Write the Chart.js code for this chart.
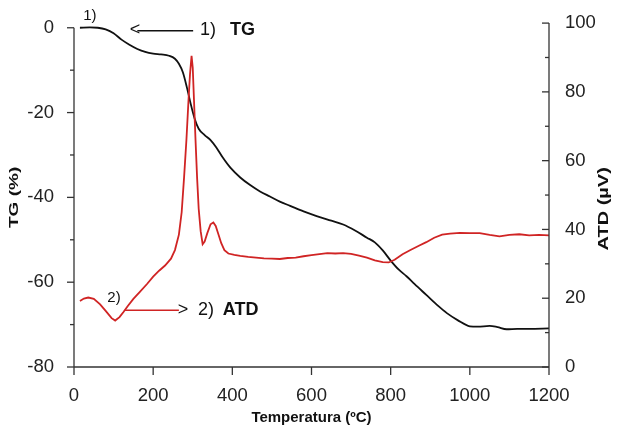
<!DOCTYPE html>
<html>
<head>
<meta charset="utf-8">
<script src="https://cdn.jsdelivr.net/npm/chart.js@4.4.0/dist/chart.umd.min.js"></script>
<style>
  html, body { margin: 0; padding: 0; background: #fff; }
</style>
</head>
<body>
<canvas id="chart" width="619" height="430"></canvas>
<script>
// TG curve (black, left axis)
const tgTemp = [15, 40, 60, 80, 100, 120, 140, 160, 180, 200, 220, 240, 255, 265, 275, 285, 295, 305, 315, 330,
  345, 360, 375, 395, 420, 445, 470, 495, 520, 546, 580, 613, 650, 680, 710, 740, 760, 780, 800, 820,
  840, 860, 890, 920, 942, 970, 1000, 1020, 1050, 1070, 1093, 1120, 1150, 1200];
const tgValues = [0.0, 0.1, 0.0, -0.4, -1.3, -2.8, -4.0, -5.0, -5.7, -6.1, -6.3, -6.6, -7.3, -8.5, -10.5, -14.0, -18.0, -21.5, -23.8, -25.3,
  -26.5, -28.3, -30.5, -33.0, -35.3, -37.1, -38.6, -39.8, -41.0, -42.0, -43.3, -44.4, -45.5, -46.4, -47.8, -49.5, -50.6, -52.5, -54.9, -57.0,
  -58.6, -60.4, -63.0, -65.6, -67.3, -69.0, -70.4, -70.5, -70.3, -70.6, -71.1, -71.0, -71.0, -70.9];

// ATD curve (red, right axis)
const atdTemp = [15, 25, 36, 50, 66, 80, 95, 104, 115, 125, 135, 150, 167, 185, 200, 215, 230, 245, 255, 265,
  272, 278, 284, 289, 293, 297, 300, 303, 307, 311, 315, 320, 325, 330, 337, 345, 352, 358, 365, 372,
  380, 390, 405, 420, 440, 460, 480, 500, 520, 540, 560, 580, 600, 620, 640, 660, 680, 700, 720, 740,
  760, 780, 795, 810, 830, 850, 870, 890, 910, 930, 950, 975, 1000, 1025, 1050, 1075, 1100, 1125, 1150, 1175, 1200];
const atdValues = [19.2, 19.9, 20.2, 19.8, 18.2, 16.3, 14.2, 13.5, 14.5, 16.0, 17.6, 19.8, 21.9, 24.2, 26.3, 28.0, 29.5, 31.5, 34.0, 38.5,
  45, 55, 66, 77, 85, 90.5, 87, 78, 66, 55, 46, 39.5, 35.7, 36.5, 39.0, 41.5, 42.0, 41.0, 38.5, 36.0,
  34.0, 33.0, 32.6, 32.3, 32.0, 31.8, 31.6, 31.5, 31.4, 31.7, 31.8, 32.2, 32.5, 32.8, 33.1, 33.0, 33.1, 32.9, 32.4, 31.8,
  31.0, 30.5, 30.4, 31.2, 32.8, 34.0, 35.2, 36.3, 37.6, 38.5, 38.8, 39.0, 38.9, 38.9, 38.4, 38.0, 38.4, 38.6, 38.3, 38.4, 38.3];

// ticks (majors get labels)
const tempTicks = [0, 100, 200, 300, 400, 500, 600, 700, 800, 900, 1000, 1100, 1200];
const tgTicks = [-80, -70, -60, -50, -40, -30, -20, -10, 0];
const atdTicks = [0, 10, 20, 30, 40, 50, 60, 70, 80, 90, 100];

const FONT = "'Liberation Sans', Arial, sans-serif";

function setTicks(values) {
  return (scale) => { scale.ticks = values.map((v) => ({ value: v })); };
}

function line(ctx, x1, y1, x2, y2) {
  ctx.beginPath();
  ctx.moveTo(x1, y1);
  ctx.lineTo(x2, y2);
  ctx.stroke();
}

// axis lines + tick marks (left/bottom outward, right inward)
const axisMarks = {
  id: "axisMarks",
  afterDraw(chart) {
    const { ctx, chartArea: a, scales } = chart;
    const xs = scales.x, yl = scales.tg, yr = scales.atd;
    ctx.save();
    ctx.strokeStyle = "#333";
    ctx.lineWidth = 1.3;
    line(ctx, a.left, yl.getPixelForValue(0), a.left, a.bottom);
    line(ctx, a.left, a.bottom, a.right, a.bottom);
    line(ctx, a.right, a.top, a.right, a.bottom);
    yl.ticks.forEach((t) => {
      const p = yl.getPixelForValue(t.value);
      line(ctx, a.left - (t.value % 20 === 0 ? 7 : 4), p, a.left, p);
    });
    yr.ticks.forEach((t) => {
      const p = yr.getPixelForValue(t.value);
      line(ctx, a.right - (t.value % 20 === 0 ? 7 : 4), p, a.right, p);
    });
    xs.ticks.forEach((t) => {
      const p = xs.getPixelForValue(t.value);
      line(ctx, p, a.bottom, p, a.bottom + (t.value % 200 === 0 ? 8 : 5));
    });
    ctx.restore();
  }
};

// curve labels and condensed vertical axis titles
const labels = {
  id: "labels",
  afterDraw(chart) {
    const { ctx, scales } = chart;
    const xs = scales.x, yl = scales.tg, yr = scales.atd;
    ctx.save();
    ctx.fillStyle = "#111";
    ctx.textBaseline = "middle";
    ctx.textAlign = "center";

    // 1) TG
    ctx.font = "15px " + FONT;
    ctx.fillText("1)", xs.getPixelForValue(40), yl.getPixelForValue(2.7));
    let y = yl.getPixelForValue(-0.6);
    ctx.textAlign = "left";
    ctx.font = "18px " + FONT;
    ctx.fillText("<", xs.getPixelForValue(141), y);
    ctx.strokeStyle = "#111";
    ctx.lineWidth = 1.5;
    line(ctx, xs.getPixelForValue(160), y + 0.5, xs.getPixelForValue(301), y + 0.5);
    ctx.fillText("1)", xs.getPixelForValue(318), y);
    ctx.font = "bold 18px " + FONT;
    ctx.fillText("TG", xs.getPixelForValue(394), y);

    // 2) ATD
    ctx.textAlign = "center";
    ctx.font = "15px " + FONT;
    ctx.fillText("2)", xs.getPixelForValue(101), yr.getPixelForValue(20.2));
    y = yr.getPixelForValue(16.5);
    ctx.strokeStyle = "#d02424";
    line(ctx, xs.getPixelForValue(129), y, xs.getPixelForValue(265), y);
    ctx.textAlign = "left";
    ctx.font = "18px " + FONT;
    ctx.fillText(">", xs.getPixelForValue(262), y);
    ctx.fillText("2)", xs.getPixelForValue(313), y);
    ctx.font = "bold 18px " + FONT;
    ctx.fillText("ATD", xs.getPixelForValue(376), y);

    // vertical titles
    ctx.textAlign = "center";
    [["TG (%)", 14, yl.getPixelForValue(-40), 19], ["ATD (\u00b5V)", 604, yr.getPixelForValue(46), 20]].forEach(([txt, x, yy, size]) => {
      ctx.save();
      ctx.translate(x, yy);
      ctx.rotate(-Math.PI / 2);
      ctx.scale(1, 0.7);
      ctx.font = "bold " + size + "px " + FONT;
      ctx.fillText(txt, 0, 0);
      ctx.restore();
    });
    ctx.restore();
  }
};

new Chart(document.getElementById("chart"), {
  type: "line",
  data: {
    datasets: [
      {
        label: "ATD",
        data: atdTemp.map((t, i) => ({ x: t, y: atdValues[i] })),
        yAxisID: "atd",
        borderColor: "#d02424",
        borderWidth: 1.8,
        pointRadius: 0,
        tension: 0,
        order: 0
      },
      {
        label: "TG",
        data: tgTemp.map((t, i) => ({ x: t, y: tgValues[i] })),
        yAxisID: "tg",
        borderColor: "#111",
        borderWidth: 1.8,
        pointRadius: 0,
        cubicInterpolationMode: "monotone",
        order: 1
      }
    ]
  },
  options: {
    responsive: false,
    animation: false,
    layout: { padding: { top: 17, left: 0, right: 0, bottom: 0 } },
    plugins: { legend: { display: false }, tooltip: { enabled: false } },
    scales: {
      x: {
        type: "linear",
        min: 0,
        max: 1200,
        afterBuildTicks: setTicks(tempTicks),
        afterFit: (s) => { s.height = 63; },
        grid: { display: false },
        border: { display: false },
        ticks: {
          padding: 10,
          maxRotation: 0,
          color: "#222",
          font: { family: FONT, size: 18.5 },
          callback: (v) => (v % 200 === 0 ? v : "")
        },
        title: {
          display: true,
          text: "Temperatura (\u00baC)",
          color: "#111",
          font: { family: FONT, size: 15, weight: "bold" },
          padding: { top: 0, bottom: 3 }
        }
      },
      tg: {
        position: "left",
        min: -80,
        max: 1.1,
        afterBuildTicks: setTicks(tgTicks),
        afterFit: (s) => { s.width = 74; },
        grid: { display: false },
        border: { display: false },
        ticks: {
          padding: 12,
          color: "#222",
          font: { family: FONT, size: 18.5 },
          callback: (v) => (v % 20 === 0 ? v : "")
        }
      },
      atd: {
        position: "right",
        min: 0,
        max: 100,
        afterBuildTicks: setTicks(atdTicks),
        afterFit: (s) => { s.width = 70; },
        grid: { display: false },
        border: { display: false },
        ticks: {
          padding: 8,
          color: "#222",
          font: { family: FONT, size: 18.5 },
          callback: (v) => (v % 20 === 0 ? v : "")
        }
      }
    }
  },
  plugins: [axisMarks, labels]
});
</script>
</body>
</html>
